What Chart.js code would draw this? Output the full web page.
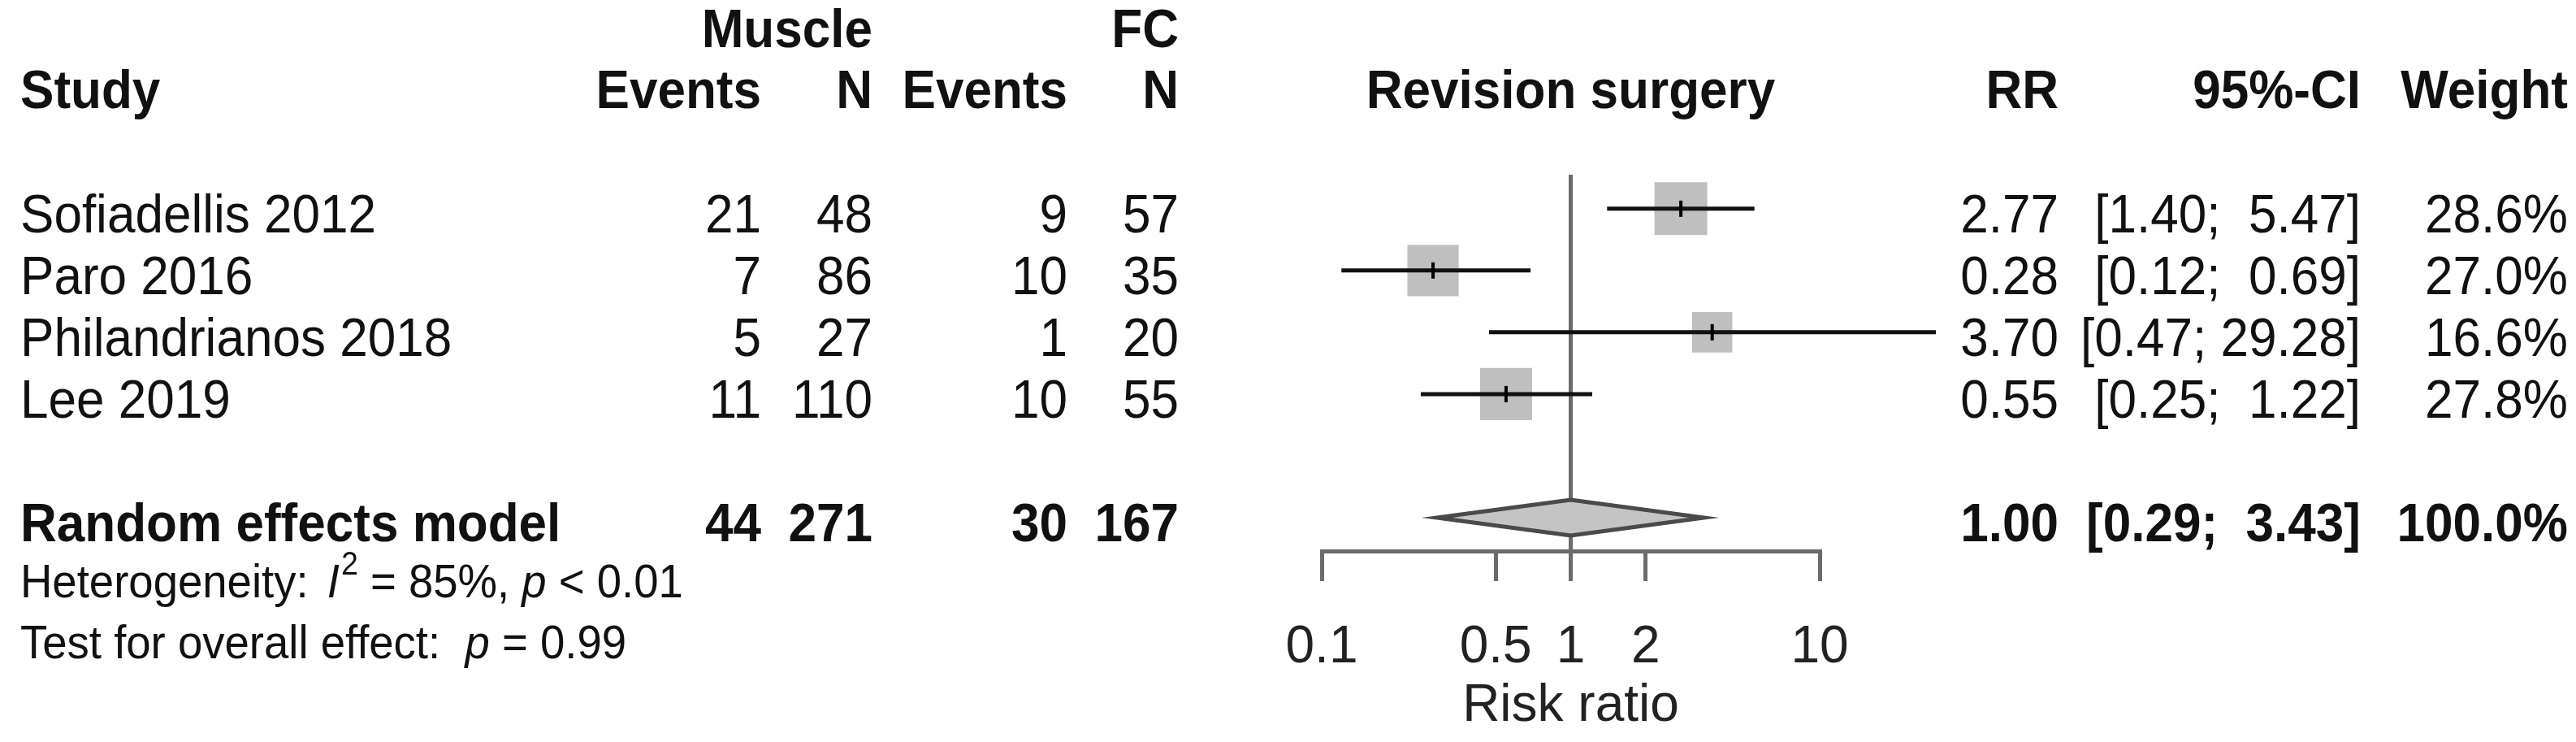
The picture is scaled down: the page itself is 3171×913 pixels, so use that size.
<!DOCTYPE html>
<html>
<head>
<meta charset="utf-8">
<title>Revision surgery forest plot</title>
<script src="https://cdn.jsdelivr.net/npm/chart.js@4.4.0/dist/chart.umd.min.js"></script>
<style>
  html, body { margin: 0; padding: 0; background: #fff; }
  #wrap { width: 3171px; height: 913px; position: relative; }
</style>
</head>
<body>
<div id="wrap"><canvas id="forest"></canvas></div>
<script>
// study level data
const studies = ['Sofiadellis 2012', 'Paro 2016', 'Philandrianos 2018', 'Lee 2019'];
const muscleEvents = [21, 7, 5, 11];
const muscleN = [48, 86, 27, 110];
const fcEvents = [9, 10, 1, 10];
const fcN = [57, 35, 20, 55];
const rr = [2.77, 0.28, 3.70, 0.55];
const ciLow = [1.40, 0.12, 0.47, 0.25];
const ciHigh = [5.47, 0.69, 29.28, 1.22];
const weights = [28.6, 27.0, 16.6, 27.8];

// pooled (random effects) row
const pooledLabel = 'Random effects model';
const pooledEvents = [44, 30];
const pooledN = [271, 167];
const pooledRR = 1.00;
const pooledLow = 0.29;
const pooledHigh = 3.43;
const pooledWeight = 100.0;

const heteroI2 = 85;
const heteroP = '< 0.01';
const overallP = '0.99';

const tickValues = [0.1, 0.5, 1, 2, 10];
const axisTitle = 'Risk ratio';
const plotTitle = 'Revision surgery';

// layout (pixels) -- not data
const FONT = "'Liberation Sans', Arial, sans-serif";
const FS = 66;           // table font size
const FS_SMALL = 58;     // heterogeneity lines
const SX = 0.94;         // the original text is a little condensed
const COL = { name: 25, mEv: 937, mN: 1074, fEv: 1314, fN: 1451, rr: 2534, ci: 2906, w: 3161 };
const HEAD1_Y = 58, HEAD2_Y = 133;
const TEXT_DY = 29;      // baseline below row centre
const HET_Y = 735, TEST_Y = 810;
const POOLED_ROW = studies.length + 2;
const MAX_SIDE = 65;
const LINE_GRAY = '#6b6b6b';

const fmt2 = v => v.toFixed(2);
function ciText(lo, hi) {
  return '[' + fmt2(lo) + '; ' + fmt2(hi).padStart(5, ' ') + ']';
}
const maxW = Math.max(...weights);
const squareRadius = weights.map(w => (MAX_SIDE * Math.sqrt(w / maxW) / 2) / Math.SQRT1_2);

// draws condensed text, returns the drawn width
function txt(ctx, s, x, y, align, weight, size, style) {
  ctx.font = (style || 'normal') + ' ' + (weight || 'normal') + ' ' + size + 'px ' + FONT;
  ctx.textAlign = align || 'left';
  ctx.textBaseline = 'alphabetic';
  ctx.save();
  ctx.translate(x, y);
  ctx.scale(SX, 1);
  ctx.fillText(s, 0, 0);
  ctx.restore();
  return ctx.measureText(s).width * SX;
}

const nullLine = {
  id: 'nullLine',
  beforeDatasetsDraw(chart) {
    const { ctx, chartArea, scales } = chart;
    const x = scales.x.getPixelForValue(1);
    ctx.save();
    ctx.strokeStyle = LINE_GRAY;
    ctx.lineWidth = 5;
    ctx.beginPath();
    ctx.moveTo(x, chartArea.top);
    ctx.lineTo(x, chartArea.bottom);
    ctx.stroke();
    ctx.restore();
  }
};

const diamond = {
  id: 'diamond',
  afterDatasetsDraw(chart) {
    const { ctx, scales } = chart;
    const y = scales.y.getPixelForValue(POOLED_ROW);
    const xl = scales.x.getPixelForValue(pooledLow);
    const xm = scales.x.getPixelForValue(pooledRR);
    const xr = scales.x.getPixelForValue(pooledHigh);
    const h = 22;
    ctx.save();
    ctx.beginPath();
    ctx.moveTo(xl, y);
    ctx.lineTo(xm, y - h);
    ctx.lineTo(xr, y);
    ctx.lineTo(xm, y + h);
    ctx.closePath();
    ctx.fillStyle = '#c4c4c4';
    ctx.fill();
    ctx.strokeStyle = '#4a4a4a';
    ctx.lineWidth = 5;
    ctx.stroke();
    ctx.restore();
  }
};

const table = {
  id: 'table',
  afterDraw(chart) {
    const { ctx, chartArea, scales } = chart;
    ctx.save();
    ctx.fillStyle = '#111';
    // headers
    txt(ctx, 'Muscle', COL.mN, HEAD1_Y, 'right', 'bold', FS);
    txt(ctx, 'FC', COL.fN, HEAD1_Y, 'right', 'bold', FS);
    txt(ctx, 'Study', COL.name, HEAD2_Y, 'left', 'bold', FS);
    txt(ctx, 'Events', COL.mEv, HEAD2_Y, 'right', 'bold', FS);
    txt(ctx, 'N', COL.mN, HEAD2_Y, 'right', 'bold', FS);
    txt(ctx, 'Events', COL.fEv, HEAD2_Y, 'right', 'bold', FS);
    txt(ctx, 'N', COL.fN, HEAD2_Y, 'right', 'bold', FS);
    txt(ctx, plotTitle, (chartArea.left + chartArea.right) / 2, HEAD2_Y, 'center', 'bold', FS);
    txt(ctx, 'RR', COL.rr, HEAD2_Y, 'right', 'bold', FS);
    txt(ctx, '95%-CI', COL.ci, HEAD2_Y, 'right', 'bold', FS);
    txt(ctx, 'Weight', COL.w, HEAD2_Y, 'right', 'bold', FS);

    // study rows
    studies.forEach((s, i) => {
      const y = scales.y.getPixelForValue(i + 1) + TEXT_DY;
      txt(ctx, s, COL.name, y, 'left', 'normal', FS);
      txt(ctx, String(muscleEvents[i]), COL.mEv, y, 'right', 'normal', FS);
      txt(ctx, String(muscleN[i]), COL.mN, y, 'right', 'normal', FS);
      txt(ctx, String(fcEvents[i]), COL.fEv, y, 'right', 'normal', FS);
      txt(ctx, String(fcN[i]), COL.fN, y, 'right', 'normal', FS);
      txt(ctx, fmt2(rr[i]), COL.rr, y, 'right', 'normal', FS);
      txt(ctx, ciText(ciLow[i], ciHigh[i]), COL.ci, y, 'right', 'normal', FS);
      txt(ctx, weights[i].toFixed(1) + '%', COL.w, y, 'right', 'normal', FS);
    });

    // pooled row
    const py = scales.y.getPixelForValue(POOLED_ROW) + TEXT_DY;
    txt(ctx, pooledLabel, COL.name, py, 'left', 'bold', FS);
    txt(ctx, String(pooledEvents[0]), COL.mEv, py, 'right', 'bold', FS);
    txt(ctx, String(pooledN[0]), COL.mN, py, 'right', 'bold', FS);
    txt(ctx, String(pooledEvents[1]), COL.fEv, py, 'right', 'bold', FS);
    txt(ctx, String(pooledN[1]), COL.fN, py, 'right', 'bold', FS);
    txt(ctx, fmt2(pooledRR), COL.rr, py, 'right', 'bold', FS);
    txt(ctx, ciText(pooledLow, pooledHigh), COL.ci, py, 'right', 'bold', FS);
    txt(ctx, pooledWeight.toFixed(1) + '%', COL.w, py, 'right', 'bold', FS);

    // heterogeneity
    let x = COL.name;
    x += txt(ctx, 'Heterogeneity: ', x, HET_Y, 'left', 'normal', FS_SMALL);
    x += txt(ctx, 'I', x + 8, HET_Y, 'left', 'normal', FS_SMALL, 'italic') + 8;
    x += txt(ctx, '2', x + 2, HET_Y - 28, 'left', 'normal', 40) + 2;
    x += txt(ctx, ' = ' + heteroI2 + '%, ', x, HET_Y, 'left', 'normal', FS_SMALL);
    x += txt(ctx, 'p', x, HET_Y, 'left', 'normal', FS_SMALL, 'italic');
    txt(ctx, ' ' + heteroP, x, HET_Y, 'left', 'normal', FS_SMALL);

    x = COL.name;
    x += txt(ctx, 'Test for overall effect:  ', x, TEST_Y, 'left', 'normal', FS_SMALL);
    x += txt(ctx, 'p', x, TEST_Y, 'left', 'normal', FS_SMALL, 'italic');
    txt(ctx, ' = ' + overallP, x, TEST_Y, 'left', 'normal', FS_SMALL);
    ctx.restore();
  }
};

const ciSets = studies.map((s, i) => ({
  label: s + ' CI',
  data: [{ x: ciLow[i], y: i + 1 }, { x: ciHigh[i], y: i + 1 }],
  showLine: true,
  borderColor: '#111',
  borderWidth: 5,
  borderCapStyle: 'butt',
  pointRadius: 0,
  clip: false,
  order: 2
}));

const squares = {
  label: 'weight',
  data: rr.map((v, i) => ({ x: v, y: i + 1 })),
  pointStyle: 'rect',
  pointRadius: squareRadius,
  backgroundColor: '#bfbfbf',
  borderWidth: 0,
  order: 3
};

const estimates = {
  label: 'estimate',
  data: rr.map((v, i) => ({ x: v, y: i + 1 })),
  pointStyle: 'line',
  rotation: 90,
  pointRadius: 10,
  borderColor: '#000',
  borderWidth: 4,
  order: 1
};

new Chart(document.getElementById('forest'), {
  type: 'scatter',
  data: { datasets: [squares, ...ciSets, estimates] },
  options: {
    responsive: true,
    maintainAspectRatio: false,
    devicePixelRatio: 1,
    animation: false,
    events: [],
    layout: { padding: { left: 1627, right: 931, top: 215, bottom: 0 } },
    plugins: { legend: { display: false }, tooltip: { enabled: false } },
    scales: {
      x: {
        type: 'logarithmic',
        min: 0.1,
        max: 10,
        afterBuildTicks: scale => { scale.ticks = tickValues.map(v => ({ value: v })); },
        afterFit: scale => { scale.height = 235; },
        ticks: {
          autoSkip: false,
          maxRotation: 0,
          padding: 44,
          color: '#222',
          font: { family: FONT, size: 64 },
          callback: v => String(v)
        },
        grid: { drawOnChartArea: false, drawTicks: true, tickLength: 37, lineWidth: 5, color: LINE_GRAY },
        border: { display: true, color: LINE_GRAY, width: 5 },
        title: { display: true, text: axisTitle, color: '#222', font: { family: FONT, size: 64 }, padding: { top: 0, bottom: 5 } }
      },
      y: {
        type: 'linear',
        display: false,
        reverse: true,
        min: 0.45,
        max: 6.54
      }
    }
  },
  plugins: [nullLine, diamond, table]
});
</script>
</body>
</html>
